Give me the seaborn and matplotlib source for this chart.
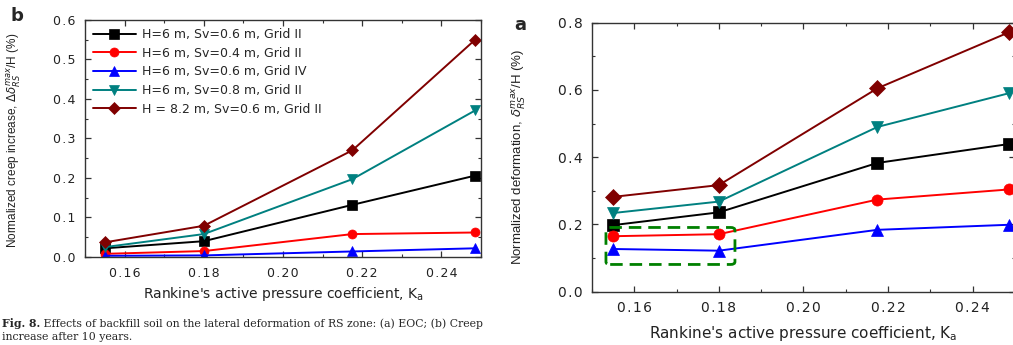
import numpy as np
import pandas as pd
import seaborn as sns
import matplotlib.pyplot as plt
from matplotlib.patches import FancyBboxPatch
from matplotlib.ticker import MultipleLocator

# Rankine's active pressure coefficient for the four backfills
ka = [0.155, 0.18, 0.2175, 0.2485]

series_labels = [
    "H=6 m, Sv=0.6 m, Grid II",
    "H=6 m, Sv=0.4 m, Grid II",
    "H=6 m, Sv=0.6 m, Grid IV",
    "H=6 m, Sv=0.8 m, Grid II",
    "H = 8.2 m, Sv=0.6 m, Grid II",
]
series_colors = ["#000000", "#ff0000", "#0000ff", "#008080", "#800000"]
series_markers = ["s", "o", "^", "v", "D"]

# (b) creep increase after 10 years, normalized (%)
creep_h6_sv06_g2 = [0.022, 0.040, 0.132, 0.206]
creep_h6_sv04_g2 = [0.008, 0.015, 0.058, 0.062]
creep_h6_sv06_g4 = [0.003, 0.004, 0.014, 0.022]
creep_h6_sv08_g2 = [0.025, 0.058, 0.197, 0.371]
creep_h82_sv06_g2 = [0.037, 0.079, 0.270, 0.550]

# (a) end-of-construction deformation, normalized (%)
eoc_h6_sv06_g2 = [0.198, 0.236, 0.383, 0.439]
eoc_h6_sv04_g2 = [0.165, 0.171, 0.274, 0.304]
eoc_h6_sv06_g4 = [0.127, 0.122, 0.184, 0.199]
eoc_h6_sv08_g2 = [0.234, 0.268, 0.490, 0.590]
eoc_h82_sv06_g2 = [0.282, 0.317, 0.605, 0.771]

creep = [creep_h6_sv06_g2, creep_h6_sv04_g2, creep_h6_sv06_g4,
         creep_h6_sv08_g2, creep_h82_sv06_g2]
eoc = [eoc_h6_sv06_g2, eoc_h6_sv04_g2, eoc_h6_sv06_g4,
       eoc_h6_sv08_g2, eoc_h82_sv06_g2]

sns.set_theme(style="ticks")
plt.rcParams["font.family"] = ["DejaVu Sans"]
plt.rcParams["mathtext.fontset"] = "dejavusans"

HAIR = "\u200a"


def spaced(fmt):
    # tick labels with a little tracking between characters
    return plt.FuncFormatter(lambda v, p: HAIR.join(format(v, fmt)))


fig = plt.figure(figsize=(10.13, 3.45), dpi=100)
ax_b = fig.add_axes([0.0839, 0.2551, 0.391, 0.687])
ax_a = fig.add_axes([0.5844, 0.1545, 0.4175, 0.7797])


def draw_panel(ax, values, msize, fs, xfs, xpad):
    for lab, col, mk, yv in zip(series_labels, series_colors, series_markers, values):
        df = pd.DataFrame({"Ka": ka, "val": yv})
        sns.lineplot(data=df, x="Ka", y="val", ax=ax, color=col, marker=mk,
                     markersize=msize, markeredgecolor=col, markeredgewidth=0.5,
                     linewidth=1.4, label=lab, legend=False)
    ax.set_xlim(0.15, 0.25)
    ax.xaxis.set_major_locator(MultipleLocator(0.02))
    ax.xaxis.set_minor_locator(MultipleLocator(0.01))
    ax.xaxis.set_major_formatter(spaced(".2f"))
    ax.tick_params(which="both", direction="in", top=True, right=True,
                   colors="#333333", labelcolor="#222222", labelsize=fs)
    ax.tick_params(which="major", length=4, width=0.9, pad=7)
    ax.tick_params(which="minor", length=2.5, width=0.8)
    for s in ax.spines.values():
        s.set_color("#333333")
        s.set_linewidth(1.0)
    ax.set_xlabel(r"Rankine's active pressure coefficient, K$_{\mathrm{a}}$",
                  fontsize=xfs, color="#222222", labelpad=xpad)


draw_panel(ax_b, creep, 6.5, 9, 10, 4)
ax_b.set_ylim(0, 0.6)
ax_b.yaxis.set_major_locator(MultipleLocator(0.1))
ax_b.yaxis.set_minor_locator(MultipleLocator(0.05))
ax_b.yaxis.set_major_formatter(spaced(".1f"))
ax_b.set_ylabel(r"Normalized creep increase, $\Delta\delta_{RS}^{max}$/H (%)",
                fontsize=8.5, color="#222222", family=["Liberation Sans"])
ax_b.yaxis.set_label_coords(-0.157, 0.49)
ax_b.legend(loc="upper left", frameon=False, fontsize=9, handlelength=3.4,
            labelspacing=0.45, borderaxespad=0.25, handletextpad=0.5)

draw_panel(ax_a, eoc, 8, 10, 11, 6)
ax_a.set_ylim(0, 0.8)
ax_a.yaxis.set_major_locator(MultipleLocator(0.2))
ax_a.yaxis.set_minor_locator(MultipleLocator(0.1))
ax_a.yaxis.set_major_formatter(spaced(".1f"))
ax_a.set_ylabel(r"Normalized deformation, $\delta_{RS}^{max}$/H (%)",
                fontsize=9.5, color="#222222", family=["Liberation Sans"])
ax_a.yaxis.set_label_coords(-0.151, 0.5)

# dashed frame around the two lowest points at small Ka
box = FancyBboxPatch((0.1533, 0.081), 0.0305, 0.110,
                     boxstyle="round,pad=0,rounding_size=0.001",
                     mutation_aspect=8, fill=False, edgecolor="#008000",
                     linewidth=2.0, linestyle=(0, (4.5, 2.5)), zorder=5)
ax_a.add_patch(box)

# panel letters
fig.text(0.010, 0.98, "b", fontsize=13, fontweight="bold", va="top")
fig.text(0.508, 0.955, "a", fontsize=13, fontweight="bold", va="top")

# figure caption
cap = fig.text(0.002, 0.052, "Fig. 8.", fontsize=7.8, fontweight="bold",
               family=["DejaVu Serif"], va="baseline")
ax_b.annotate(" Effects of backfill soil on the lateral deformation of RS zone: "
              "(a) EOC; (b) Creep", xy=(1, 0), xycoords=cap, va="bottom",
              fontsize=7.8, family=["DejaVu Serif"], annotation_clip=False)
fig.text(0.002, 0.014, "increase after 10 years.", fontsize=7.8,
         family=["DejaVu Serif"], va="baseline")

fig.savefig("out.png", dpi=100)
